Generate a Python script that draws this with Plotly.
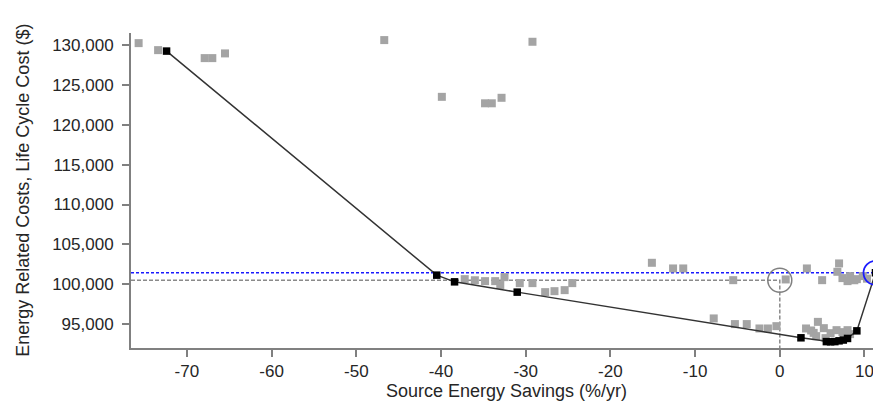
import plotly.graph_objects as go

# Pareto front (black squares + line)
pareto_x = [-72.4, -40.5, -38.4, -31.0, 2.5, 5.5, 6.0, 6.5, 7.0, 7.5, 8.0, 9.1, 11.3]
pareto_y = [129250, 101140, 100300, 99010, 93280, 92800, 92780, 92800, 92900, 93000, 93200, 94150, 101430]

# Other simulated designs (grey squares)
other_x = [-75.7, -73.4, -67.9, -67.0, -65.5, -46.7, -39.9, -34.8, -34.0, -32.85, -29.2,
           -37.2, -36.0, -34.8, -33.6, -32.5, -33.0, -30.7, -29.2, -27.7, -26.6, -25.4, -24.5,
           -15.1, -12.6, -11.4, -5.5, -7.8, -5.3, -3.9, -2.4, -1.4, -0.4,
           0.7, 3.2, 5.0, 7.0, 6.8, 7.4, 8.3, 9.1, 9.8, 8.0, 8.8, 10.3,
           4.5, 3.1, 3.7, 4.0, 5.2, 6.0, 6.7, 7.4, 8.0, 8.3, 5.4, 4.3]
other_y = [130250, 129370, 128370, 128370, 128960, 130630, 123510, 122700, 122700, 123390, 130420,
           100640, 100500, 100390, 100390, 100890, 99900, 100140, 100140, 99010, 99130, 99260, 100140,
           102690, 101980, 101980, 100510, 95710, 95000, 95000, 94450, 94450, 94740,
           100600, 101980, 100510, 102610, 101560, 100770, 101020, 100640, 101020, 100390, 100500, 100700,
           95280, 94450, 94200, 93900, 94490, 93860, 94240, 93990, 94240, 93740, 93240, 93490]

# Baseline and optimum
baseline_x = [0.0]
baseline_y = [100500]
optimum_x = [11.3]
optimum_y = [101430]

x_range = [-76.6, 11.95]
y_range = [92000, 131520]

x_ticks = [-70, -60, -50, -40, -30, -20, -10, 0, 10]
x_labels = [str(v) for v in x_ticks]
y_ticks = [95000, 100000, 105000, 110000, 115000, 120000, 125000, 130000]
y_labels = [f"{v:,}" for v in y_ticks]

x_title = "Source Energy Savings (%/yr)"
y_title = "Energy Related Costs, Life Cycle Cost ($)"

FONT = "Arial, Liberation Sans, sans-serif"
TXT = "#262626"

fig = go.Figure()

# grey dashed baseline guides
fig.add_trace(go.Scatter(x=[x_range[0], baseline_x[0], baseline_x[0]],
                         y=[baseline_y[0], baseline_y[0], y_range[0]],
                         mode="lines", line=dict(color="#8a8a8a", width=1.5, dash="4px,2px"),
                         hoverinfo="skip", showlegend=False))
# blue dashed optimum guides
fig.add_trace(go.Scatter(x=[x_range[0], optimum_x[0], optimum_x[0]],
                         y=[optimum_y[0], optimum_y[0], y_range[0]],
                         mode="lines", line=dict(color="#1a1aff", width=1.5, dash="3px,2px"),
                         hoverinfo="skip", showlegend=False))

fig.add_trace(go.Scatter(x=other_x, y=other_y, mode="markers",
                         marker=dict(symbol="square", size=8, color="#a4a4a4"),
                         showlegend=False))

fig.add_trace(go.Scatter(x=pareto_x, y=pareto_y, mode="lines+markers",
                         line=dict(color="#333333", width=1.5),
                         marker=dict(symbol="square", size=7.5, color="#000000"),
                         showlegend=False))

fig.add_trace(go.Scatter(x=baseline_x, y=baseline_y, mode="markers",
                         marker=dict(symbol="circle-open", size=24, color="#808080",
                                     line=dict(width=1.5, color="#808080")),
                         showlegend=False))
fig.add_trace(go.Scatter(x=optimum_x, y=optimum_y, mode="markers",
                         marker=dict(symbol="circle-open", size=24, color="#1a1aff",
                                     line=dict(width=1.8, color="#1a1aff")),
                         showlegend=False))

# The page body has an 8px margin, so the figure is offset by 8px right and down.
fig.update_layout(
    width=873, height=397,
    margin=dict(l=123, r=0, t=25, b=57, autoexpand=False),
    paper_bgcolor="white", plot_bgcolor="white",
    font=dict(family=FONT, size=18, color=TXT),
    xaxis=dict(range=x_range, tickvals=x_ticks, ticktext=x_labels, showgrid=False, zeroline=False,
               showline=True, linecolor="#808080", linewidth=2, automargin=False,
               ticks="outside", ticklen=7, tickcolor="#808080", tickwidth=1.5,
               tickfont=dict(size=17, color=TXT)),
    yaxis=dict(range=y_range, tickvals=y_ticks, ticktext=y_labels, showgrid=False, zeroline=False,
               showline=True, linecolor="#808080", linewidth=2, automargin=False,
               ticks="outside", ticklen=7, tickcolor="#808080", tickwidth=1.5,
               ticklabelstandoff=5,
               tickfont=dict(size=17, color=TXT)),
    annotations=[
        dict(text=x_title, xref="paper", yref="paper", x=0.5, y=-0.135, yanchor="middle",
             xanchor="center", showarrow=False, font=dict(size=18, color=TXT)),
        dict(text=y_title, xref="paper", yref="paper", x=-0.145, y=0.5, textangle=-90,
             xanchor="center", yanchor="middle", showarrow=False, font=dict(size=18, color=TXT)),
    ],
)

fig.write_html("out.html")
